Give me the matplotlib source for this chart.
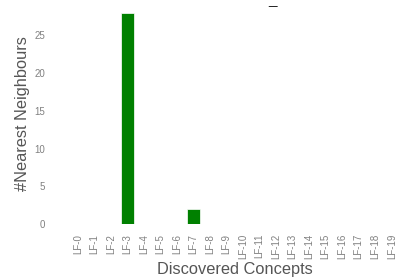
import matplotlib
matplotlib.use("Agg")
import matplotlib.pyplot as plt
import seaborn as sns

concepts = ["LF-%d" % i for i in range(20)]
neighbours = [0, 0, 0, 28, 0, 0, 0, 2, 0, 0, 0, 0, 0, 0, 0, 0, 0, 0, 0, 0]


def main():
    sns.set_style("white")
    plt.rcParams["font.family"] = ["Liberation Sans", "DejaVu Sans"]

    fig = plt.figure(figsize=(3.95, 2.77), dpi=100)
    # axes run past the right edge, as in the cropped original
    ax = fig.add_axes([0.139, 0.1913, 0.911, 0.8004])
    ax.bar(range(len(concepts)), neighbours, width=0.8, color="green",
           edgecolor="white", linewidth=0.5)
    ax.set_xticks(range(len(concepts)))
    ax.set_xticklabels(concepts, rotation=90, fontsize=7, color="#808080")
    ax.set_yticks([0, 5, 10, 15, 20, 25])
    ax.tick_params(axis="y", labelsize=7, labelcolor="#808080")
    ax.set_xlabel("Discovered Concepts", fontsize=11.8, color="#555555", labelpad=2)
    ax.set_ylabel("#Nearest Neighbours", fontsize=11.8, color="#555555", labelpad=3)
    for s in ax.spines.values():
        s.set_visible(False)
    fig.text(0.691, 1.0, "_", fontsize=11, color="#222222", ha="center", va="center")

    fig.savefig("out.png", dpi=100)


if __name__ == "__main__":
    main()
